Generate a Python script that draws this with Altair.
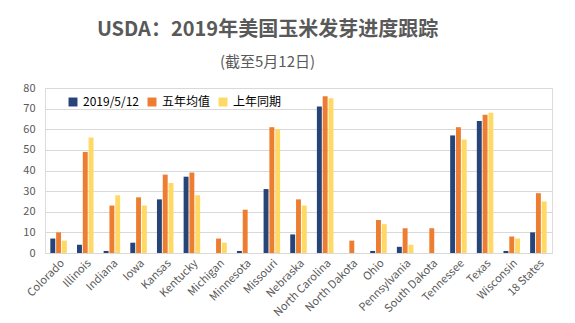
import altair as alt
import pandas as pd

states = ["Colorado", "Illinois", "Indiana", "Iowa", "Kansas", "Kentucky", "Michigan",
          "Minnesota", "Missouri", "Nebraska", "North Carolina", "North Dakota", "Ohio",
          "Pennsylvania", "South Dakota", "Tennessee", "Texas", "Wisconsin", "18 States"]
series = ["2019/5/12", "五年均值", "上年同期"]
v2019 = [7, 4, 1, 5, 26, 37, 0, 1, 31, 9, 71, 0, 1, 3, 0, 57, 64, 1, 10]
v5yr = [10, 49, 23, 27, 38, 39, 7, 21, 61, 26, 76, 6, 16, 12, 12, 61, 67, 8, 29]
vlast = [6, 56, 28, 23, 34, 28, 5, 0, 60, 23, 75, 0, 14, 4, 0, 55, 68, 7, 25]
colors = ["#264478", "#ED7D31", "#FFD966"]

rows = []
for i, s in enumerate(states):
    for name, vals in zip(series, [v2019, v5yr, vlast]):
        rows.append({"state": s, "series": name, "value": vals[i]})
df = pd.DataFrame(rows)

font = "Noto Sans CJK SC"

chart = alt.Chart(df).mark_bar().encode(
    x=alt.X("state:N", sort=states, title=None,
            scale=alt.Scale(paddingInner=0.38, paddingOuter=0.2),
            axis=alt.Axis(labelAngle=-45, labelFontSize=11, labelColor="#595959",
                          labelFont=font, ticks=False, domainColor="#D9D9D9",
                          labelPadding=4)),
    xOffset=alt.XOffset("series:N", sort=series, scale=alt.Scale(paddingInner=0.15)),
    y=alt.Y("value:Q", title=None,
            scale=alt.Scale(domain=[0, 80]),
            axis=alt.Axis(values=list(range(0, 81, 10)), labelFontSize=11,
                          labelColor="#595959", labelFont=font, ticks=False,
                          domain=False, gridColor="#D9D9D9", labelPadding=10)),
    color=alt.Color("series:N", sort=series,
                    scale=alt.Scale(domain=series, range=colors),
                    legend=alt.Legend(title=None, orient="none", direction="horizontal",
                                      legendX=22, legendY=8, symbolType="square",
                                      symbolSize=80, labelFontSize=12, labelFont=font,
                                      labelColor="#000000", columnPadding=6,
                                      symbolStrokeWidth=0)),
).properties(
    width=507, height=165,
    title=alt.TitleParams(
        text="USDA：2019年美国玉米发芽进度跟踪",
        subtitle="(截至5月12日)",
        font=font, fontSize=20, fontWeight="bold", color="#595959",
        subtitleFont=font, subtitleFontSize=15, subtitleColor="#595959",
        subtitlePadding=15, anchor="middle", dx=-31, offset=12),
    autosize=alt.AutoSizeParams(type="none"),
    padding={"left": 45, "top": 88, "right": 23, "bottom": 70},
).configure_view(stroke=None).configure(background="white")

chart.save("out.html", embed_options={"renderer": "svg", "actions": False})
